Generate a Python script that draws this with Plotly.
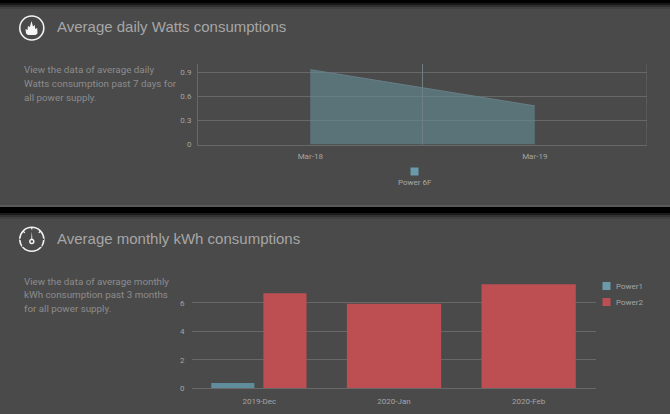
import plotly.graph_objects as go

W, H = 670, 414
FONT = "Roboto, Arial, sans-serif"
HEAD = "Liberation Sans, Arial, sans-serif"
BG = "#4a4a4a"
GRID = "#686868"
TXT = "#a6a6a6"
TICK = "#a4a4a4"
TEAL = "#5f8d9c"
RED = "#bd4f53"

# ---- data ----
daily_days = ["Mar-18", "Mar-19"]
daily_power6f = [0.93, 0.48]
daily_ticks = [0, 0.3, 0.6, 0.9]
daily_tick_labels = ["0", "0.3", "0.6", "0.9"]

months = ["2019-Dec", "2020-Jan", "2020-Feb"]
power1 = [0.37, None, None]
power2 = [6.67, 5.94, 7.3]
monthly_ticks = [0, 2, 4, 6]

title1 = "Average daily Watts consumptions"
title2 = "Average monthly kWh consumptions"
desc1 = ["View the data of average daily", "Watts consumption past 7 days for", "all power supply."]
desc2 = ["View the data of average monthly", "kWh consumption past 3 months", "for all power supply."]


def px(x):
    return x / W


def py(y):
    return 1 - y / H


def rect(x0, y0, x1, y1, color, layer="below"):
    return dict(type="rect", xref="paper", yref="paper", x0=px(x0), x1=px(x1), y0=py(y0), y1=py(y1),
                fillcolor=color, line_width=0, layer=layer)


def path(points, fill=None, line=None, width=1.0):
    d = "M" + " L".join(f"{px(a):.5f},{py(b):.5f}" for a, b in points)
    if fill:
        d += " Z"
    return dict(type="path", xref="paper", yref="paper", path=d, fillcolor=fill or "rgba(0,0,0,0)",
                line=dict(color=line or "rgba(0,0,0,0)", width=width), layer="above")


def circle(cx, cy, r, fill=None, line=None, width=1.5):
    return dict(type="circle", xref="paper", yref="paper", x0=px(cx - r), x1=px(cx + r), y0=py(cy + r), y1=py(cy - r),
                fillcolor=fill or "rgba(0,0,0,0)", line=dict(color=line or "rgba(0,0,0,0)", width=width), layer="above")


def text(x, y, s, size, color=TXT, anchor="left", family=FONT):
    return dict(xref="paper", yref="paper", x=px(x), y=py(y), text=s, showarrow=False, xanchor=anchor,
                yanchor="middle", font=dict(family=family, size=size, color=color))


fig = go.Figure()
fig.add_trace(go.Scatter(x=daily_days, y=daily_power6f, mode="lines", fill="tozeroy", name="Power 6F",
                         line=dict(color="#667f85", width=1), fillcolor="rgba(100,140,150,0.62)",
                         showlegend=False, xaxis="x", yaxis="y"))
# single-series months are centred in their band, as in the reference
fig.add_trace(go.Bar(x=months, y=power1, name="Power1", marker_color=TEAL, marker_line_width=0,
                     width=[0.32, 0, 0], offset=[-0.357, 0, 0], showlegend=False, xaxis="x2", yaxis="y2"))
fig.add_trace(go.Bar(x=months, y=power2, name="Power2", marker_color=RED, marker_line_width=0,
                     width=[0.32, 0.70, 0.70], offset=[0.03, -0.35, -0.35], showlegend=False, xaxis="x2", yaxis="y2"))

shapes = [
    rect(0, 0, W, 3, "#000000"), rect(0, 3, W, 5, "#161616"), rect(0, 5, W, 7, "#2e2e2e"), rect(0, 7, W, 9, "#404040"),
    rect(0, 205, W, 207, "#5a5a5a"), rect(0, 207, W, 213, "#000000"), rect(0, 213, W, 215, "#1c1c1c"),
    rect(0, 215, W, 217, "#333333"), rect(0, 217, W, 219, "#424242"),
    # band separators of the daily chart
    dict(type="line", xref="x", yref="paper", x0=0.5, x1=0.5, y0=py(144.5), y1=py(64), line=dict(color="#6f8083", width=1)),
    dict(type="line", xref="x", yref="paper", x0=1.5, x1=1.5, y0=py(144.5), y1=py(64), line=dict(color=GRID, width=1)),
    # legend swatches
    rect(410.5, 167.5, 418.5, 175.5, "#6b9aab", "above"),
    rect(602.5, 282, 610.5, 290, "#6b9aab", "above"),
    rect(602.5, 298, 610.5, 306, RED, "above"),
    # flame icon
    circle(31.8, 28, 12, line="#f2f2f2", width=1.6),
    path([(26, 33.5), (25.5, 29), (27.5, 30), (28, 26), (29.8, 27), (31.5, 21), (33, 26.5), (34.8, 25), (35.2, 29),
          (37.2, 28), (37.5, 33.5), (35.5, 35), (28, 35)], fill="#f5f5f5"),
    # gauge icon
    circle(31.8, 239.3, 12, line="#f2f2f2", width=1.6),
    circle(31.8, 241.5, 2, line="#f5f5f5", width=1.4),
    path([(31.2, 239.5), (31.8, 231.5), (32.4, 239.5)], fill="#f5f5f5"),
    path([(31.8, 227), (31.8, 229.5)], line="#f5f5f5", width=1.2),
    path([(23, 231), (24.8, 232.8)], line="#f5f5f5", width=1.2),
    path([(40.6, 231), (38.8, 232.8)], line="#f5f5f5", width=1.2),
    path([(19.5, 239.3), (22.5, 239.3)], line="#4a4a4a", width=1.4),
    path([(41, 239.3), (44.1, 239.3)], line="#4a4a4a", width=1.4),
    path([(22, 246.5), (25, 245)], line="#4a4a4a", width=1.4),
    path([(41.6, 246.5), (38.6, 245)], line="#4a4a4a", width=1.4),
]

annotations = [
    text(55, 27, title1, 15, family=HEAD),
    text(55, 238, title2, 15, family=HEAD),
    text(414.5, 183, "Power 6F", 8, "#a8a8a8", "center"),
    text(614, 286.5, "Power1", 8, "#a4a4a4"),
    text(614, 302.5, "Power2", 8, "#a4a4a4"),
]
for i, line in enumerate(desc1):
    annotations.append(text(22, 70 + i * 13.6, line, 9.8, "#8c8c8c"))
for i, line in enumerate(desc2):
    annotations.append(text(22, 281 + i * 13.6, line, 9.8, "#8c8c8c"))

tickfont = dict(family=FONT, size=8, color=TICK)
fig.update_layout(
    width=W, height=H, margin=dict(l=0, r=0, t=0, b=0), autosize=False,
    paper_bgcolor=BG, plot_bgcolor="rgba(0,0,0,0)", barmode="overlay", showlegend=False,
    shapes=shapes, annotations=annotations, hovermode=False,
    xaxis=dict(domain=[px(198), px(647)], anchor="y", type="category", range=[-0.5, 1.5], showgrid=False,
               automargin=False,
               showline=True, linecolor=GRID, linewidth=1, ticks="outside", ticklen=4, tickcolor="rgba(0,0,0,0)",
               tickfont=tickfont, zeroline=False),
    yaxis=dict(domain=[py(144.5), py(64)], anchor="x", range=[0, 1.0], tickvals=daily_ticks, automargin=False,
               ticktext=daily_tick_labels, showgrid=True, gridcolor=GRID, gridwidth=1, showline=True,
               linecolor=GRID, linewidth=1, zeroline=False, ticks="outside", ticklen=4,
               tickcolor="rgba(0,0,0,0)", tickfont=tickfont),
    xaxis2=dict(domain=[px(192), px(596)], anchor="y2", type="category", range=[-0.5, 2.5], showgrid=False,
                automargin=False,
                showline=True, linecolor=GRID, linewidth=1, ticks="outside", ticklen=5, tickcolor="rgba(0,0,0,0)",
                tickfont=tickfont, zeroline=False),
    yaxis2=dict(domain=[py(388.3), py(281.4)], anchor="x2", range=[0, 7.5], tickvals=monthly_ticks, automargin=False,
                showgrid=True, gridcolor=GRID, gridwidth=1, showline=False, zeroline=False, ticks="outside",
                ticklen=5, tickcolor="rgba(0,0,0,0)", tickfont=tickfont),
)

fit_page = ("var s=document.createElement('style');"
            "s.textContent='html,body{margin:0;padding:0;width:670px;height:414px;overflow:hidden;background:#4a4a4a}"
            ".plotly-graph-div{display:block}';document.head.appendChild(s);")
fig.write_html("out.html", config={"displayModeBar": False}, post_script=fit_page)
